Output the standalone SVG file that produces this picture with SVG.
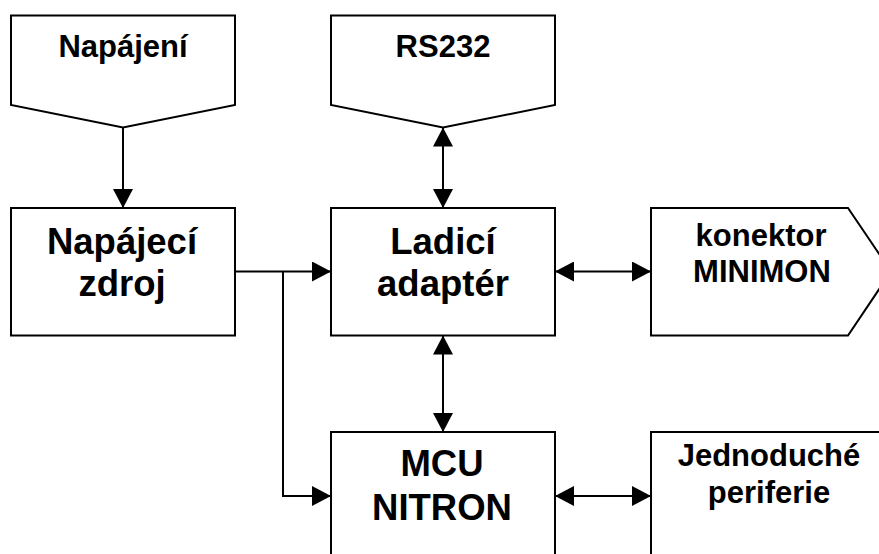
<svg xmlns="http://www.w3.org/2000/svg" width="879" height="554" viewBox="0 0 879 554">
<style>
.box{fill:#fff;stroke:#000;stroke-width:2;stroke-linejoin:miter}
.t{font-family:"Liberation Sans",Arial,sans-serif;font-weight:bold;fill:#000;text-anchor:middle}
.big{font-size:36.5px}
.sm{font-size:31px}
.c{fill:none;stroke:#000;stroke-width:2}
.a1{marker-end:url(#ah)}
.a2{marker-start:url(#ah);marker-end:url(#ah)}
</style>
<defs>
<marker id="ah" markerUnits="userSpaceOnUse" markerWidth="20" markerHeight="20" refX="19" refY="10" orient="auto-start-reverse" viewBox="0 0 20 20">
<path d="M0,0 L19,10 L0,20 z" fill="#000"/>
</marker>
</defs>
<rect width="879" height="554" fill="#fff"/>
<g id="napajeni">
<polygon class="box" points="11,15.5 235,15.5 235,105 123,127.5 11,105"/>
<text class="t sm" x="123" y="57">Napájení</text>
</g>
<g id="rs232">
<polygon class="box" points="331,15.5 555,15.5 555,105 443,127.5 331,105"/>
<text class="t sm" x="443" y="57">RS232</text>
</g>
<g id="zdroj">
<rect class="box" x="11" y="208" width="224" height="127.5"/>
<text class="t big" x="122" y="253.5">Napájecí</text>
<text class="t big" x="122" y="295.5">zdroj</text>
</g>
<g id="adapter">
<rect class="box" x="331" y="208" width="224" height="127.5"/>
<text class="t big" x="443" y="253.5">Ladicí</text>
<text class="t big" x="443" y="295.5">adaptér</text>
</g>
<g id="minimon">
<polygon class="box" points="651,208 848,208 891,271.5 848,335.5 651,335.5"/>
<text class="t sm" x="761" y="246">konektor</text>
<text class="t sm" x="762" y="282">MINIMON</text>
</g>
<g id="mcu">
<rect class="box" x="331" y="432" width="224" height="140"/>
<text class="t big" x="442" y="476">MCU</text>
<text class="t big" x="442" y="520">NITRON</text>
</g>
<g id="periferie">
<rect class="box" x="651" y="432" width="250" height="140"/>
<text class="t sm" x="769" y="466">Jednoduché</text>
<text class="t sm" x="769" y="503">periferie</text>
</g>
<g id="connectors">
<line class="c a1" x1="123" y1="127.5" x2="123" y2="208"/>
<line class="c a2" x1="443" y1="127.5" x2="443" y2="208"/>
<line class="c a1" x1="235" y1="271.5" x2="331" y2="271.5"/>
<polyline class="c a1" points="283,271.5 283,496 331,496"/>
<line class="c a2" x1="443" y1="335.5" x2="443" y2="432"/>
<line class="c a2" x1="555" y1="271.5" x2="651" y2="271.5"/>
<line class="c a2" x1="555" y1="496" x2="651" y2="496"/>
</g>
</svg>
